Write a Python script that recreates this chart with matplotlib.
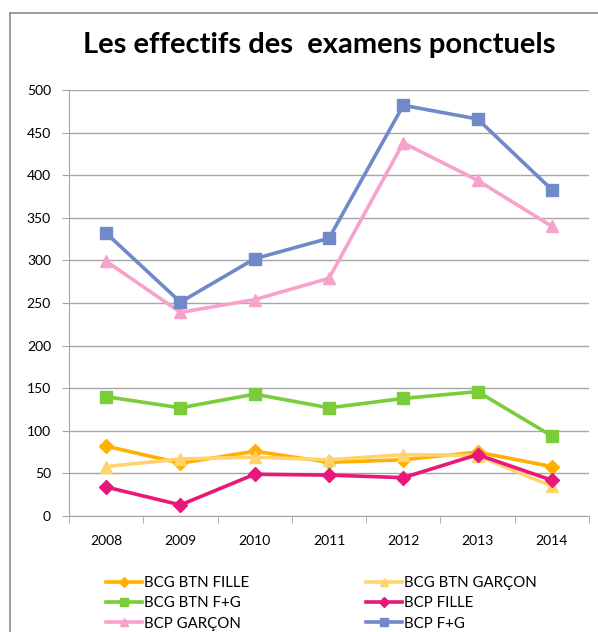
import matplotlib
matplotlib.use("Agg")
import matplotlib.pyplot as plt
from matplotlib.lines import Line2D
from matplotlib.ticker import FixedLocator, NullFormatter

plt.rcParams["font.family"] = ["Lato", "DejaVu Sans"]

years = ["2008", "2009", "2010", "2011", "2012", "2013", "2014"]
btn_fille = [82, 62, 76, 63, 66, 75, 58]
btn_garcon = [58, 67, 69, 66, 72, 71, 35]
btn_fg = [140, 127, 143, 127, 138, 146, 94]
bcp_fille = [34, 13, 49, 48, 45, 72, 42]
bcp_garcon = [299, 239, 254, 279, 438, 394, 340]
bcp_fg = [332, 251, 302, 326, 482, 466, 383]

GRID = "#a6a6a6"

fig = plt.figure(figsize=(5.98, 6.32), dpi=100)
ax = fig.add_axes([69 / 598, 1 - 516 / 632, 520 / 598, 426 / 632])

x = range(len(years))
series = [
    ("BCG BTN FILLE", btn_fille, "#ffb000", "D", 7),
    ("BCG BTN GARÇON", btn_garcon, "#ffd36e", "^", 9),
    ("BCG BTN F+G", btn_fg, "#7acc38", "s", 9),
    ("BCP FILLE", bcp_fille, "#e8177a", "D", 7),
    ("BCP GARÇON", bcp_garcon, "#f7a2cc", "^", 9),
    ("BCP F+G", bcp_fg, "#7089c9", "s", 9),
]
handles = {}
for name, vals, col, mk, ms in series:
    (h,) = ax.plot(x, vals, color=col, lw=2.6, marker=mk, ms=ms,
                   markeredgecolor=col, label=name, zorder=3)
    handles[name] = h

ax.set_xlim(-0.5, 6.5)
ax.set_ylim(0, 500)
ax.set_yticks(range(0, 501, 50))
ax.yaxis.grid(True, color=GRID, lw=1)
ax.set_axisbelow(True)
ax.set_xticks(list(x))
ax.set_xticklabels(years)
ax.tick_params(axis="x", length=0, pad=14, labelsize=10)
ax.xaxis.set_minor_locator(FixedLocator([i - 0.5 for i in range(8)]))
ax.xaxis.set_minor_formatter(NullFormatter())
ax.tick_params(axis="x", which="minor", length=5, color=GRID)
ax.tick_params(axis="y", length=5, color=GRID, pad=8, labelsize=10)
for s in ("top", "right"):
    ax.spines[s].set_visible(False)
for s in ("left", "bottom"):
    ax.spines[s].set_color(GRID)

fig.text(319 / 598, 1 - 45 / 632, "Les effectifs des  examens ponctuels",
         ha="center", va="center", fontsize=21, fontweight="bold")

order = ["BCG BTN FILLE", "BCG BTN F+G", "BCP GARÇON",
         "BCG BTN GARÇON", "BCP FILLE", "BCP F+G"]
fig.legend([handles[n] for n in order], order, ncol=2, frameon=False,
           loc="upper left", bbox_to_anchor=(106 / 598, 1 - 576 / 632),
           fontsize=10.8, handlelength=2.4, handletextpad=0.15,
           labelspacing=0.42, columnspacing=7.75, markerscale=0.7,
           borderaxespad=0, borderpad=0)

fig.add_artist(Line2D([10 / 598, 1], [1 - 13 / 632, 1 - 13 / 632],
                      transform=fig.transFigure, color="#8c8c8c", lw=1.2))
fig.add_artist(Line2D([10 / 598, 10 / 598], [0, 1 - 13 / 632],
                      transform=fig.transFigure, color="#8c8c8c", lw=1.2))

fig.savefig("out.png", dpi=100)
